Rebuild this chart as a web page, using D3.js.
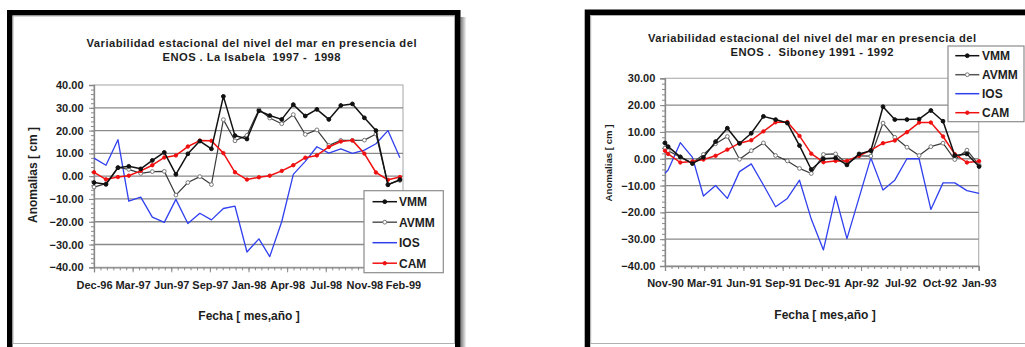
<!DOCTYPE html>
<html><head><meta charset="utf-8">
<script src="https://cdn.jsdelivr.net/npm/d3@7"></script>
<style>
body{margin:0;background:#fff}
svg{display:block}
text{font-family:"Liberation Sans",Arial,Helvetica,sans-serif;fill:#1e1e1e;white-space:pre}
</style>
</head><body>
<svg id="c" width="1025" height="347"></svg>
<script>
// ---------------- DATA ----------------
const seriesNames = ["VMM", "AVMM", "IOS", "CAM"];

// Panel 1: La Isabela 1997 - 1998
const isabelaTitle = ["Variabilidad estacional del nivel del mar en presencia del", "ENOS . La Isabela  1997 -  1998"];
const isabelaDates = ["1996-12-01","1997-01-01","1997-02-01","1997-03-01","1997-04-01","1997-05-01","1997-06-01",
  "1997-07-01","1997-08-01","1997-09-01","1997-10-01","1997-11-01","1997-12-01","1998-01-01","1998-02-01",
  "1998-03-01","1998-04-01","1998-05-01","1998-06-01","1998-07-01","1998-08-01","1998-09-01","1998-10-01",
  "1998-11-01","1998-12-01","1999-01-01","1999-02-01"];
const isabelaVMM  = [-2.8,-3.6,3.7,4.3,3.2,6.9,10.4,0.8,9.8,15.4,12.0,35.0,17.8,16.3,28.7,26.6,24.9,31.4,26.4,29.3,24.9,31.0,31.7,25.6,20.0,-3.8,-1.5];
const isabelaAVMM = [-4.8,-3.3,3.8,3.0,1.2,2.0,2.1,-8.3,-2.8,-0.2,-3.7,24.8,15.5,17.9,29.3,25.5,23.0,27.0,18.3,20.3,13.5,15.7,15.7,15.8,18.5,-3.6,-1.9];
const isabelaIOS  = [7.9,4.8,16.0,-11.0,-9.2,-18.0,-20.3,-10.2,-20.8,-16.3,-19.2,-14.2,-13.2,-33.3,-27.5,-35.3,-20.0,0.8,6.5,12.9,10.1,12.0,10.0,11.4,14.2,20.0,8.1];
const isabelaCAM  = [1.7,-1.4,-0.4,0.2,2.3,4.8,8.2,9.1,13.0,15.6,15.5,10.1,1.7,-1.5,-0.5,0.2,2.3,4.8,8.1,9.1,12.8,15.2,15.7,9.9,1.6,-1.6,-0.4];
const isabelaTicks = ["Dec-96","Mar-97","Jun-97","Sep-97","Jan-98","Apr-98","Jul-98","Nov-98","Feb-99"];
const isabelaYTicks = [40,30,20,10,0,-10,-20,-30,-40];

// Panel 2: Siboney 1991 - 1992
const siboneyTitle = ["Variabilidad estacional del nivel del mar en presencia del", "ENOS .  Siboney 1991 - 1992"];
const siboneyDates = ["1990-11-22","1990-11-30","1990-12-31","1991-01-31","1991-02-28","1991-03-31","1991-04-30",
  "1991-05-31","1991-06-30","1991-07-31","1991-08-31","1991-09-30","1991-10-31","1991-11-30","1991-12-31",
  "1992-01-31","1992-02-29","1992-03-31","1992-04-30","1992-05-31","1992-06-30","1992-07-31","1992-08-31",
  "1992-09-30","1992-10-31","1992-11-30","1992-12-31","1993-01-31"];
const siboneyVMM  = [5.9,4.5,0.7,-1.8,0.5,6.4,11.4,5.7,9.5,15.8,14.6,13.3,4.9,-4.0,0.0,0.3,-2.3,1.8,3.0,19.4,14.6,14.6,14.8,18.0,14.0,1.2,1.8,-2.9];
const siboneyAVMM = [4.0,3.0,0.6,-1.6,1.6,5.6,8.3,-0.2,3.0,5.9,1.2,-0.8,-3.6,-5.5,1.6,1.8,-1.8,1.1,1.0,13.3,8.0,4.3,1.2,4.5,5.8,-0.3,3.2,-2.4];
const siboneyIOS  = [-5.4,-4.2,6.0,0.5,-13.9,-10.0,-14.8,-4.8,-1.9,-9.8,-17.9,-14.8,-8.0,-22.5,-34.0,-14.0,-29.8,-14.5,0.3,-11.7,-8.0,0.0,0.0,-18.9,-9.0,-9.0,-11.9,-12.9];
const siboneyCAM  = [3.0,1.8,-1.4,-1.0,-0.3,1.1,3.4,5.8,6.9,10.2,13.6,13.7,8.5,1.9,-1.3,-0.8,-0.8,1.1,3.2,5.8,6.8,9.9,13.5,13.5,8.3,1.7,-1.4,-0.9];
const siboneyTicks = ["Nov-90","Mar-91","Jun-91","Sep-91","Dec-91","Apr-92","Jul-92","Oct-92","Jan-93"];
const siboneyYTicks = [30,20,10,0,-10,-20,-30,-40];

const yTitle = "Anomalias [ cm ]";
const xTitle = "Fecha [ mes,año ]";

// ---------------- DRAWING ----------------
const svg = d3.select("#c");
const parse = d3.utcParse("%Y-%m-%d");
const styles = {
  VMM:  {line:"#111", width:1.5, marker:"fill", mfill:"#111", mstroke:"#111", r:1.9},
  AVMM: {line:"#3c3c3c", width:1.2, marker:"open", mfill:"#fff", mstroke:"#777", r:1.9},
  IOS:  {line:"#3040ee", width:1.3, marker:null},
  CAM:  {line:"#f01010", width:1.5, marker:"fill", mfill:"#f01010", mstroke:"#f01010", r:1.7}
};

const defs = svg.append("defs");
const grad = defs.append("linearGradient").attr("id","shadowR").attr("x1","0").attr("x2","1");
grad.append("stop").attr("offset","0").attr("stop-color","#777");
grad.append("stop").attr("offset","1").attr("stop-color","#fff");

function frame(x0, y0, x1, withShadow){
  if (withShadow){
    svg.append("rect").attr("x", x1).attr("y", y0+7).attr("width", 6).attr("height", 347-y0)
      .attr("fill","url(#shadowR)");
  }
  svg.append("rect").attr("x", x0+2.75).attr("y", y0+2.75).attr("width", x1-x0-5.5).attr("height", 400)
    .attr("fill","none").attr("stroke","#000").attr("stroke-width",5.5);
  svg.append("rect").attr("x", x0+6).attr("y", y0+6).attr("width", x1-x0-12).attr("height", 343.5-(y0+6))
    .attr("fill","none").attr("stroke","#b0b0b0").attr("stroke-width",1);
}

function panel(cfg){
  const g = svg.append("g");
  const dates = cfg.dates.map(parse);
  const d0 = dates[0];
  const x = d3.scaleUtc().domain([d0, d3.utcDay.offset(d0, 800)]).range([cfg.x0, cfg.x1]);
  const y = d3.scaleLinear().domain([cfg.yMin, cfg.yMax]).range([cfg.yBot, cfg.yTop]);

  // title
  cfg.title.forEach((t,i)=>{
    g.append("text").attr("x", cfg.titleX).attr("y", cfg.titleY + i*14)
      .attr("text-anchor","middle").attr("font-size", cfg.titleSize).attr("font-weight","bold")
      .attr("textLength", cfg.titleLens[i]).attr("lengthAdjust","spacing")
      .attr("fill","#2a2a2a").text(t);
  });

  // plot border (top/right)
  g.append("rect").attr("x", cfg.x0).attr("y", cfg.yTop).attr("width", cfg.x1-cfg.x0).attr("height", cfg.yBot-cfg.yTop)
    .attr("fill","none").attr("stroke","#b4b4b4").attr("stroke-width",1.2);
  // gridlines
  g.append("g").selectAll("line").data(cfg.yTicks.filter(v=>v!==cfg.yMin && v!==cfg.yMax)).join("line")
    .attr("x1", cfg.x0).attr("x2", cfg.x1).attr("y1", d=>y(d)).attr("y2", d=>y(d))
    .attr("stroke","#8a8a8a").attr("stroke-width",1.3);

  // y axis minor
  const minorY = d3.range(cfg.yMin, cfg.yMax+0.001, 2);
  g.append("g").attr("transform",`translate(${cfg.x0},0)`)
    .call(d3.axisLeft(y).tickValues(minorY).tickSize(3).tickFormat(""))
    .call(a=>a.select(".domain").remove())
    .call(a=>a.selectAll("line").attr("stroke","#888"));
  // y axis major
  g.append("g").attr("transform",`translate(${cfg.x0},0)`)
    .call(d3.axisLeft(y).tickValues(cfg.yTicks).tickSize(5).tickPadding(cfg.yPad).tickFormat(d3.format(".2f")))
    .call(a=>a.select(".domain").attr("stroke","#888").attr("stroke-width",1.3))
    .call(a=>a.selectAll("line").attr("stroke","#888"))
    .call(a=>a.selectAll("text").attr("font-size",11).attr("font-weight","bold")
      .attr("font-family",'"Liberation Sans",Arial,sans-serif').attr("fill","#1e1e1e"));

  // x axis minor
  const minorX = d3.range(0, 48.5).map(k=>new Date(d0.getTime() + k*(100/6)*86400000));
  g.append("g").attr("transform",`translate(0,${cfg.yBot})`)
    .call(d3.axisBottom(x).tickValues(minorX).tickSize(3).tickFormat(""))
    .call(a=>a.select(".domain").remove())
    .call(a=>a.selectAll("line").attr("stroke","#888"));
  // x axis major
  const xt = cfg.tickLabels.map((_,k)=>d3.utcDay.offset(d0, 100*k));
  g.append("g").attr("transform",`translate(0,${cfg.yBot})`)
    .call(d3.axisBottom(x).tickValues(xt).tickSize(5).tickPadding(cfg.xPad).tickFormat((d,i)=>cfg.tickLabels[i]))
    .call(a=>a.select(".domain").attr("stroke","#888").attr("stroke-width",1.3))
    .call(a=>a.selectAll("line").attr("stroke","#888"))
    .call(a=>a.selectAll("text").attr("font-size",11).attr("font-weight","bold")
      .attr("font-family",'"Liberation Sans",Arial,sans-serif').attr("fill","#1e1e1e"));

  // axis titles
  g.append("text").attr("transform",`translate(${cfg.yTitleX},${cfg.yTitleY}) rotate(-90)`)
    .attr("text-anchor","middle").attr("font-size",cfg.yTitleSize).attr("font-weight","bold")
    .attr("fill", cfg.yTitleColor).text(yTitle);
  g.append("text").attr("x", cfg.xTitleX).attr("y", cfg.xTitleY)
    .attr("text-anchor","middle").attr("font-size",12).attr("font-weight","bold").text(xTitle);

  // series
  const order = ["IOS","AVMM","CAM","VMM"];
  order.forEach(name=>{
    const vals = cfg.series[name];
    const st = styles[name];
    const pts = vals.map((v,i)=>[x(dates[i]), y(v)]);
    g.append("path").attr("d", d3.line()(pts)).attr("fill","none")
      .attr("stroke", st.line).attr("stroke-width", st.width).attr("stroke-linejoin","round");
    if (st.marker){
      g.append("g").selectAll("circle").data(pts).join("circle")
        .attr("cx", d=>d[0]).attr("cy", d=>d[1]).attr("r", st.r)
        .attr("fill", st.mfill).attr("stroke", st.mstroke).attr("stroke-width", 1);
    }
  });

  // legend
  const L = cfg.legend;
  g.append("rect").attr("x", L.x).attr("y", L.y).attr("width", L.w).attr("height", L.h)
    .attr("fill","#fff").attr("stroke","#8c8c8c").attr("stroke-width",1.2);
  seriesNames.forEach((name,i)=>{
    const st = styles[name];
    const yy = L.y0 + i*L.dy;
    g.append("line").attr("x1", L.lx0).attr("x2", L.lx1).attr("y1", yy).attr("y2", yy)
      .attr("stroke", name==="AVMM" ? "#555" : st.line).attr("stroke-width", 1.5);
    if (st.marker){
      g.append("circle").attr("cx",(L.lx0+L.lx1)/2).attr("cy",yy).attr("r",st.r)
        .attr("fill",st.mfill).attr("stroke",st.mstroke).attr("stroke-width",1);
    }
    g.append("text").attr("x", L.tx).attr("y", yy).attr("dy","0.36em")
      .attr("font-size",12).attr("font-weight","bold").text(name);
  });
}

frame(7, 10, 460.5, true);
frame(584.7, 9.5, 1110, false);

panel({
  dates: isabelaDates,
  series: {VMM: isabelaVMM, AVMM: isabelaAVMM, IOS: isabelaIOS, CAM: isabelaCAM},
  tickLabels: isabelaTicks, yTicks: isabelaYTicks,
  x0: 94, x1: 403, yTop: 85, yBot: 267.3, yMin: -40, yMax: 40,
  yPad: 5.5, xPad: 8.5,
  title: isabelaTitle, titleLens: [330, 178], titleX: 251.5, titleY: 46.8, titleSize: 11.2,
  yTitleX: 36.5, yTitleY: 175, yTitleSize: 12, yTitleColor: "#1e1e1e",
  xTitleX: 249, xTitleY: 320,
  legend: {x: 364, y: 190.7, w: 79.3, h: 82, y0: 201.7, dy: 20.5, lx0: 372.5, lx1: 397, tx: 399}
});

panel({
  dates: siboneyDates,
  series: {VMM: siboneyVMM, AVMM: siboneyAVMM, IOS: siboneyIOS, CAM: siboneyCAM},
  tickLabels: siboneyTicks, yTicks: siboneyYTicks,
  x0: 665, x1: 978.7, yTop: 78.3, yBot: 266, yMin: -40, yMax: 30,
  yPad: 4.7, xPad: 8,
  title: siboneyTitle, titleLens: [328, 163], titleX: 812, titleY: 41.8, titleSize: 11.2,
  yTitleX: 612, yTitleY: 163, yTitleSize: 9.6, yTitleColor: "#444",
  xTitleX: 825, xTitleY: 318.5,
  legend: {x: 948, y: 46, w: 76, h: 75.7, y0: 55.7, dy: 19, lx0: 955.3, lx1: 979.3, tx: 982}
});
</script>
</body></html>
